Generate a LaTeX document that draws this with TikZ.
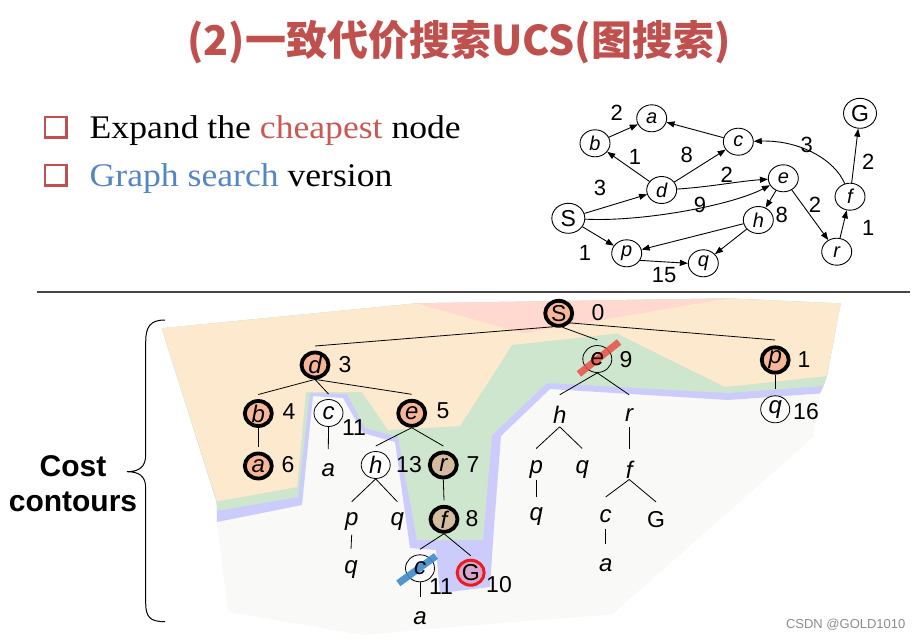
\documentclass[tikz,border=0pt]{standalone}
\usepackage{fontspec}
\setmainfont{Liberation Serif}
\setsansfont{Liberation Sans}
\newfontfamily\cjkfont{Noto Sans CJK SC}
\newfontfamily\serifx[FakeStretch=1.08]{Liberation Serif}
\usetikzlibrary{arrows.meta,shapes.geometric}
\definecolor{titlered}{RGB}{192,80,77}
\definecolor{cheapred}{RGB}{204,88,82}
\definecolor{gblue}{RGB}{84,134,198}
\definecolor{peach}{RGB}{253,234,206}
\definecolor{pinkc}{RGB}{255,216,208}
\definecolor{greenc}{RGB}{206,229,206}
\definecolor{lavc}{RGB}{204,204,252}
\definecolor{grayc}{RGB}{249,249,247}
\definecolor{salmon}{RGB}{247,182,152}
\definecolor{tanc}{RGB}{212,188,158}
\definecolor{goalred}{RGB}{236,28,28}
\definecolor{goalfill}{RGB}{214,166,204}
\definecolor{crossred}{RGB}{232,80,70}
\definecolor{crossblue}{RGB}{62,140,200}
\definecolor{rulegray}{RGB}{70,70,70}
\definecolor{wmgray}{RGB}{140,140,140}
\begin{document}
\begin{tikzpicture}[x=1pt,y=-1pt,
  gnode/.style={ellipse, draw, line width=0.9pt, minimum width=30pt, minimum height=27pt, inner sep=0pt, font=\sffamily\itshape\fontsize{20}{20}\selectfont},
  gbig/.style={gnode, minimum width=33pt, minimum height=30pt, font=\sffamily\fontsize{23}{23}\selectfont},
  garrow/.style={-{Triangle[length=8pt,width=6pt]}, line width=0.9pt},
  elab/.style={inner sep=0pt, font=\sffamily\fontsize{22}{22}\selectfont},
  tdone/.style={ellipse, draw, line width=3.8pt, fill=salmon, minimum width=27pt, minimum height=25pt, inner sep=0pt, font=\sffamily\itshape\fontsize{24}{24}\selectfont},
  ttan/.style={tdone, fill=tanc},
  tgoal/.style={tdone, draw=goalred, line width=3pt, fill=goalfill, font=\sffamily\fontsize{23}{23}\selectfont},
  topen/.style={ellipse, draw, line width=0.8pt, fill=white, minimum width=29pt, minimum height=27pt, inner sep=0pt, font=\sffamily\itshape\fontsize{24}{24}\selectfont},
  tplain/.style={inner sep=0pt, font=\sffamily\itshape\fontsize{24}{24}\selectfont},
  tnum/.style={inner sep=0pt, font=\sffamily\fontsize{23}{23}\selectfont},
  tedge/.style={line width=0.8pt},
  bsq/.style={draw=titlered, line width=2.6pt}
]
\useasboundingbox (0,0) rectangle (917,639);

% title
\node[font=\cjkfont\bfseries\fontsize{41}{41}\selectfont, text=titlered] (title) at (459,42) {(2)一致代价搜索UCS(图搜索)};

% bullets
\draw[bsq] (45,117) rectangle (66.5,137.5);
\draw[bsq] (45,165) rectangle (66.5,185.5);
\node[anchor=base west, inner sep=0pt, font=\serifx\fontsize{33}{33}\selectfont] (b1) at (89.5,138.3) {Expand the \textcolor{cheapred}{cheapest} node};
\node[anchor=base west, inner sep=0pt, font=\serifx\fontsize{33}{33}\selectfont] (b2) at (89.5,186.5) {\textcolor{gblue}{Graph search} version};

% rule
\draw[rulegray, line width=1.3pt] (37,292) -- (910,292);

% ---------- state graph ----------
\node[gnode] (ga) at (651.7,118.3) {a};
\node[gnode] (gb) at (595,143.3) {b};
\node[gnode] (gc) at (738.3,141.7) {c};
\node[gbig] (gG) at (860,113.3) {G};
\node[gnode] (gd) at (661.7,190) {d};
\node[gnode] (ge) at (783.3,178.3) {e};
\node[gnode] (gf) at (850,196.7) {f};
\node[gbig] (gS) at (568.3,218.3) {S};
\node[gnode] (gh) at (758.3,220) {h};
\node[gnode] (gr) at (836.7,251.7) {r};
\node[gnode] (gp) at (626.7,253.3) {p};
\node[gnode] (gq) at (703.3,263.3) {q};

\draw[garrow] (gb) -- (ga);
\draw[garrow] (gc) -- (ga);
\draw[garrow] (gd) -- (gb);
\draw[garrow] (gd) -- (gc);
\draw[garrow] (gd) .. controls (710,187) and (740,181) .. (ge);
\draw[garrow] (gS) -- (gd);
\draw[garrow] (gS) .. controls (640,222) and (730,206) .. (ge);
\draw[garrow] (gS) -- (gp);
\draw[garrow] (ge) -- (gh);
\draw[garrow] (ge) -- (gr);
\draw[garrow] (gh) -- (gp);
\draw[garrow] (gh) -- (gq);
\draw[garrow] (gp.-28) -- (gq.west);
\draw[garrow] (gr) -- (gf);
\draw[garrow] (gf) -- (gG);
\draw[garrow] (gf) .. controls (835,160) and (800,140) .. (gc);

\node[elab] (l1) at (616.7,113.3) {2};
\node[elab] (l2) at (635,157) {1};
\node[elab] (l3) at (686.7,155) {8};
\node[elab] (l4) at (726.7,175) {2};
\node[elab] (l5) at (600,188.3) {3};
\node[elab] (l6) at (700,205) {9};
\node[elab] (l7) at (585,253.3) {1};
\node[elab] (l8) at (781.7,215) {8};
\node[elab] (l9) at (815,205) {2};
\node[elab] (l10) at (664,275) {15};
\node[elab] (l11) at (868.3,228.3) {1};
\node[elab] (l12) at (868.3,161.7) {2};
\node[elab] (l13) at (806.7,145) {3};

% ---------- cost contours ----------
\fill[grayc] (161.7,328.3) -- (416.7,303.3) -- (728,298.4) -- (840.6,303.4) -- (827,376) -- (823.5,386) -- (820,393.5) -- (813.5,437) -- (612,614.5) -- (500,623) -- (363,635) -- (228,612) -- (217,522) -- (216.7,502) -- cycle;
\fill[lavc] (161.7,328.3) -- (416.7,303.3) -- (728,298.4) -- (840.6,303.4) -- (827,376) -- (823.5,386) -- (820,393.5) -- (728,400) -- (550,389) -- (501,436) -- (494,527) -- (490,587) -- (440,593) -- (436,550) -- (410,548) -- (395,442) -- (363,433) -- (343,398) -- (313,396) -- (302,505) -- (217,522) -- (216.7,502) -- cycle;
\fill[greenc] (161.7,328.3) -- (416.7,303.3) -- (728,298.4) -- (840.6,303.4) -- (827,376) -- (823.5,386) -- (728,393) -- (547,383) -- (492,435) -- (483,540) -- (417,540) -- (398,437) -- (365,428) -- (347,394) -- (310,393) -- (298,497) -- (217,511) -- (216.7,502) -- cycle;
\fill[peach] (161.7,328.3) -- (416.7,303.3) -- (728,298.4) -- (840.6,303.4) -- (827,376) -- (725,387) -- (617,333.5) -- (512,345) -- (460,426) -- (388,430) -- (362,392) -- (306,392) -- (297,487) -- (217,501.5) -- cycle;
\fill[pinkc] (416.7,303.3) -- (728,298.4) -- (523,333.3) -- cycle;

% brace and label
\draw[line width=1pt] (165,320) .. controls (150,320) and (145.7,327) .. (145.7,342) -- (145.7,455) .. controls (145.7,467) and (139,471.7) .. (127,471.7) .. controls (139,471.7) and (145.7,476) .. (145.7,488) -- (145.7,603) .. controls (145.7,617) and (150,621.7) .. (165,621.7);
\node[anchor=base, inner sep=0pt, font=\sffamily\bfseries\fontsize{30}{30}\selectfont] (cost1) at (73,476.7) {Cost};
\node[anchor=base, inner sep=0pt, font=\sffamily\bfseries\fontsize{30}{30}\selectfont] (cost2) at (73,511.7) {contours};

% ---------- search tree ----------
\node[tdone, font=\sffamily\fontsize{23}{23}\selectfont] (tS) at (558.7,313.3) {S};
\node[tdone] (td) at (315,365) {d};
\node[topen, fill=none] (te9) at (597.3,359) {e};
\node[tdone] (tp1) at (775.2,360) {p};
\node[tdone] (tb) at (258.3,413.5) {b};
\node[topen] (tc1) at (328.5,413) {c};
\node[tdone] (te5) at (411.7,413.3) {e};
\node[topen] (tq16) at (775.2,409.3) {q};
\node[tdone] (ta6) at (258.3,466) {a};
\node[tplain] (tap) at (328.3,470) {a};
\node[topen] (th13) at (375.7,465) {h};
\node[ttan] (tr7) at (443.3,465) {r};
\node[tplain] (tpp) at (351.7,521.7) {p};
\node[tplain] (tqp) at (397.3,521.7) {q};
\node[ttan] (tf8) at (444,519.3) {f};
\node[tplain] (tqq) at (351,570) {q};
\node[topen] (tcx) at (420,568.3) {};
\node[tgoal] (tG) at (470.7,572.7) {G};
\node[tplain] (tax) at (420,618.3) {a};
\node[tplain] (th) at (559.7,414.8) {h};
\node[tplain] (tr) at (629.2,414.8) {r};
\node[tplain] (tp2) at (536.2,469.5) {p};
\node[tplain] (tq2) at (582.2,469.5) {q};
\node[tplain] (tf) at (629.2,469.5) {f};
\node[tplain] (tq3) at (536.2,516.5) {q};
\node[tplain] (tc2) at (605.7,516.5) {c};
\node[tplain, font=\sffamily\fontsize{23}{23}\selectfont] (tG2) at (656,519.9) {G};
\node[tplain] (ta3) at (605.7,564.8) {a};

\node[tnum] (n0) at (598,313) {0};
\node[tnum] (n3) at (345,365) {3};
\node[tnum] (n9) at (626,360) {9};
\node[tnum] (n1) at (804,360) {1};
\node[tnum] (n4) at (289,412) {4};
\node[tnum] (n11a) at (354,428) {11};
\node[tnum] (n5) at (443,411) {5};
\node[tnum] (n16) at (806,412) {16};
\node[tnum] (n6) at (288,465) {6};
\node[tnum] (n13) at (409,465) {13};
\node[tnum] (n7) at (473,465) {7};
\node[tnum] (n8) at (472,519) {8};
\node[tnum] (n11b) at (441,587) {11};
\node[tnum] (n10) at (499,585) {10};

\draw[tedge] (tS.-112) -- ([yshift=19pt]td.center);
\draw[tedge] (tS.-75) -- ([yshift=19pt]te9.center);
\draw[tedge] (tS.-40) -- ([yshift=20pt]tp1.center);
\draw[tedge] (td.south) -- ([yshift=19pt]tb.center);
\draw[tedge] (td.south) -- ([yshift=19pt]tc1.center);
\draw[tedge] (td.south) -- ([yshift=19pt]te5.center);
\draw[tedge] (tb.south) -- ([yshift=19pt]ta6.center);
\draw[tedge] (tc1.south) -- ([yshift=21pt]tap.center);
\draw[tedge] (te5.south) -- ([yshift=19pt]th13.center);
\draw[tedge] (te5.south) -- ([yshift=19pt]tr7.center);
\draw[tedge] (th13.south) -- ([yshift=20pt]tpp.center);
\draw[tedge] (th13.south) -- ([yshift=20pt]tqp.center);
\draw[tedge] (tr7.south) -- ([yshift=19pt]tf8.center);
\draw[tedge] (tf8.south) -- ([yshift=19pt]tcx.center);
\draw[tedge] (tf8.south) -- ([yshift=17pt]tG.center);
\draw[tedge] ([yshift=-13pt]tpp.center) -- ([yshift=21pt]tqq.center);
\draw[tedge] (tcx.south) -- ([yshift=21pt]tax.center);
\draw[tedge] (te9.south) -- ([yshift=20pt]th.center);
\draw[tedge] (te9.south) -- ([yshift=20pt]tr.center);
\draw[tedge] (tp1.south) -- ([yshift=20pt]tq16.center);
\draw[tedge] ([yshift=-12pt]th.center) -- ([yshift=21pt]tp2.center);
\draw[tedge] ([yshift=-12pt]th.center) -- ([yshift=21pt]tq2.center);
\draw[tedge] ([yshift=-12pt]tr.center) -- ([yshift=21pt]tf.center);
\draw[tedge] ([yshift=-10pt]tp2.center) -- ([yshift=20pt]tq3.center);
\draw[tedge] ([yshift=-10pt]tf.center) -- ([yshift=19.5pt]tc2.center);
\draw[tedge] ([yshift=-10pt]tf.center) -- ([yshift=18pt]tG2.center);
\draw[tedge] ([yshift=-12pt]tc2.center) -- ([yshift=21pt]ta3.center);

% crosses (letters set on top)
\draw[crossred, opacity=0.85, line width=7pt] ([xshift=-18.4pt,yshift=-14.9pt]te9.center) -- ([xshift=21.8pt,yshift=17pt]te9.center);
\draw[crossblue, opacity=0.9, line width=7pt] ([xshift=-21.7pt,yshift=-15pt]tcx.center) -- ([xshift=16pt,yshift=12.3pt]tcx.center);
\node[tplain, text=black!85!red] (te9l) at (te9.center) {e};
\node[tplain, text=black!85!blue] (tcxl) at (tcx.center) {c};

% watermark
\node[inner sep=0pt, text=wmgray, font=\sffamily\fontsize{13}{13}\selectfont] (wm) at (845.7,624.6) {CSDN @GOLD1010};
\end{tikzpicture}
\end{document}
